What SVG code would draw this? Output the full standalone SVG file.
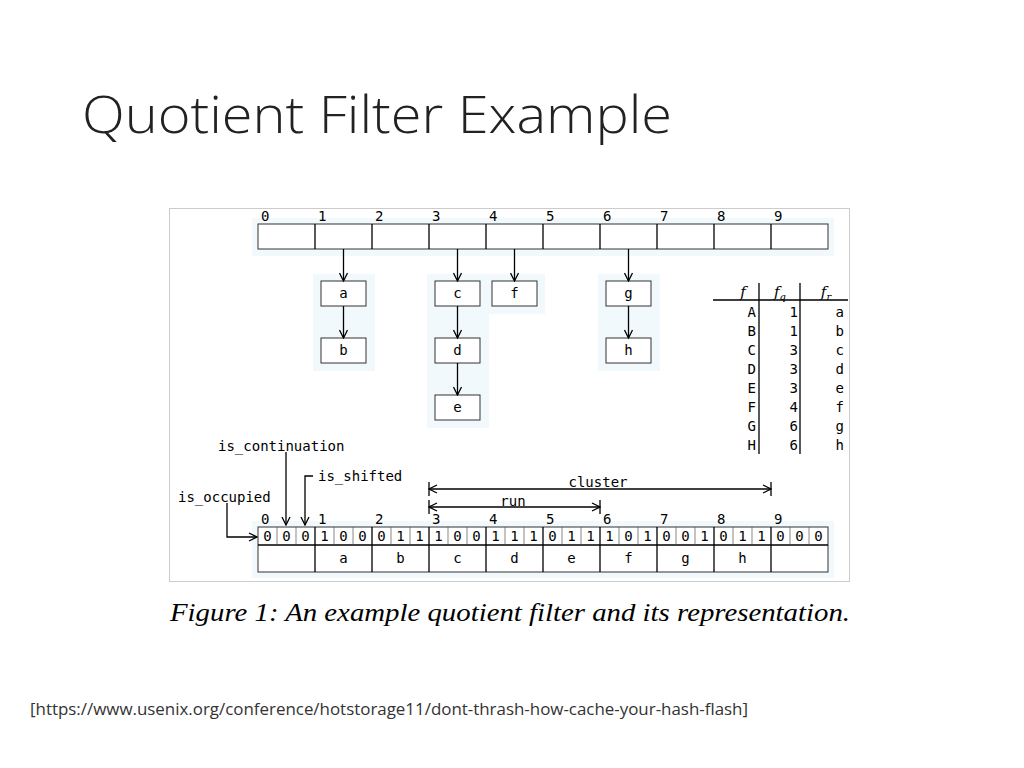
<svg xmlns="http://www.w3.org/2000/svg" width="1024" height="768" viewBox="0 0 1024 768">
<defs>
<marker id="ah" markerWidth="10" markerHeight="10" refX="9" refY="5" orient="auto" markerUnits="userSpaceOnUse"><path d="M1,1 L9,5 L1,9" fill="none" stroke="#000" stroke-width="1.3"/></marker>
<marker id="as" markerWidth="10" markerHeight="10" refX="1" refY="5" orient="auto" markerUnits="userSpaceOnUse"><path d="M9,1 L1,5 L9,9" fill="none" stroke="#000" stroke-width="1.3"/></marker>
</defs>
<style>
.m{font-family:"DejaVu Sans Mono",monospace;font-size:14px;fill:#000}
.c{text-anchor:middle}
.box{fill:#fff;stroke:#333;stroke-width:1}
.glow{fill:#f1f9fc}
.ln{stroke:#000;stroke-width:1.3;fill:none}
.it{font-family:"DejaVu Serif",serif;font-style:italic;font-size:15px}
</style>
<rect width="1024" height="768" fill="#fff"/>
<text x="82" y="133" font-family="Open Sans, sans-serif" font-size="52" font-weight="300" fill="#222" textLength="590" lengthAdjust="spacingAndGlyphs">Quotient Filter Example</text>
<rect x="169.500" y="208.500" width="680" height="373" fill="#fff" stroke="#ccc"/>
<g id="glows">
<rect class="glow" x="252" y="218" width="582" height="38"/>
<rect class="glow" x="313" y="274" width="62" height="97"/>
<rect class="glow" x="427" y="274" width="118" height="40"/>
<rect class="glow" x="427" y="314" width="62" height="114"/>
<rect class="glow" x="598" y="274" width="62" height="97"/>
<rect class="glow" x="252" y="521" width="582" height="57"/>
</g>
<g id="top-array">
<rect class="box" x="258" y="224" width="570" height="25"/>
<path class="ln" stroke-width="1" d="M315,224v25M372,224v25M429,224v25M486,224v25M543,224v25M600,224v25M657,224v25M714,224v25M771,224v25"/>
<g class="m"><text x="261" y="221">0</text><text x="318" y="221">1</text><text x="375" y="221">2</text><text x="432" y="221">3</text><text x="489" y="221">4</text><text x="546" y="221">5</text><text x="603" y="221">6</text><text x="660" y="221">7</text><text x="717" y="221">8</text><text x="774" y="221">9</text></g>
</g>
<g id="node-a"><rect class="box" x="321" y="281" width="45" height="25"/><text class="m c" x="343.500" y="298">a</text></g>
<g id="node-b"><rect class="box" x="321" y="338" width="45" height="25"/><text class="m c" x="343.500" y="355">b</text></g>
<g id="node-c"><rect class="box" x="435" y="281" width="45" height="25"/><text class="m c" x="457.500" y="298">c</text></g>
<g id="node-d"><rect class="box" x="435" y="338" width="45" height="25"/><text class="m c" x="457.500" y="355">d</text></g>
<g id="node-e"><rect class="box" x="435" y="395" width="45" height="25"/><text class="m c" x="457.500" y="412">e</text></g>
<g id="node-f"><rect class="box" x="492" y="281" width="45" height="25"/><text class="m c" x="514.500" y="298">f</text></g>
<g id="node-g"><rect class="box" x="606" y="281" width="45" height="25"/><text class="m c" x="628.500" y="298">g</text></g>
<g id="node-h"><rect class="box" x="606" y="338" width="45" height="25"/><text class="m c" x="628.500" y="355">h</text></g>
<g id="connectors" marker-end="url(#ah)">
<path class="ln" d="M343.500,249V281"/><path class="ln" d="M343.500,306V338"/>
<path class="ln" d="M457.500,249V281"/><path class="ln" d="M457.500,306V338"/><path class="ln" d="M457.500,363V395"/>
<path class="ln" d="M514.500,249V281"/>
<path class="ln" d="M628.500,249V281"/><path class="ln" d="M628.500,306V338"/>
<path class="ln" d="M286,452V525"/>
<path class="ln" d="M313,476H305V525"/>
<path class="ln" d="M227,503V537H257"/>
</g>
<g id="table">
<path class="ln" stroke-width="1.2" d="M713,300H848M759,283V454M800,283V454"/>
<g class="it c"><text x="743" y="297">f</text><text x="780" y="297">f<tspan font-size="10" dy="3">q</tspan></text><text x="826" y="297">f<tspan font-size="10" dy="3">r</tspan></text></g>
<g class="m" text-anchor="end">
<text x="756" y="317">A</text><text x="756" y="336">B</text><text x="756" y="355">C</text><text x="756" y="374">D</text><text x="756" y="393">E</text><text x="756" y="412">F</text><text x="756" y="431">G</text><text x="756" y="450">H</text>
<text x="798" y="317">1</text><text x="798" y="336">1</text><text x="798" y="355">3</text><text x="798" y="374">3</text><text x="798" y="393">3</text><text x="798" y="412">4</text><text x="798" y="431">6</text><text x="798" y="450">6</text>
<text x="844" y="317">a</text><text x="844" y="336">b</text><text x="844" y="355">c</text><text x="844" y="374">d</text><text x="844" y="393">e</text><text x="844" y="412">f</text><text x="844" y="431">g</text><text x="844" y="450">h</text>
</g>
</g>
<g id="labels" class="m">
<text x="218" y="451">is_continuation</text>
<text x="318" y="481">is_shifted</text>
<text x="178" y="502">is_occupied</text>
<text class="c" x="598" y="487">cluster</text>
<text class="c" x="513" y="506">run</text>
</g>
<g id="spans">
<path class="ln" d="M429,489H771" marker-start="url(#as)" marker-end="url(#ah)"/><path class="ln" d="M429,482v14M771,482v14"/>
<path class="ln" d="M429,507H600" marker-start="url(#as)" marker-end="url(#ah)"/><path class="ln" d="M429,500v14M600,500v14"/>
</g>
<g id="bottom-array">
<rect class="box" x="258" y="527" width="570" height="45"/>
<path class="ln" stroke-width="1" d="M258,545H828M315,527v45M372,527v45M429,527v45M486,527v45M543,527v45M600,527v45M657,527v45M714,527v45M771,527v45"/>
<path stroke="#555" stroke-width="0.7" d="M277,527v18M296,527v18M334,527v18M353,527v18M391,527v18M410,527v18M448,527v18M467,527v18M505,527v18M524,527v18M562,527v18M581,527v18M619,527v18M638,527v18M676,527v18M695,527v18M733,527v18M752,527v18M790,527v18M809,527v18"/>
<g class="m"><text x="261" y="524">0</text><text x="318" y="524">1</text><text x="375" y="524">2</text><text x="432" y="524">3</text><text x="489" y="524">4</text><text x="546" y="524">5</text><text x="603" y="524">6</text><text x="660" y="524">7</text><text x="717" y="524">8</text><text x="774" y="524">9</text></g>
<g class="m c">
<text x="267.500" y="541">0</text><text x="286.500" y="541">0</text><text x="305.500" y="541">0</text>
<text x="324.500" y="541">1</text><text x="343.500" y="541">0</text><text x="362.500" y="541">0</text>
<text x="381.500" y="541">0</text><text x="400.500" y="541">1</text><text x="419.500" y="541">1</text>
<text x="438.500" y="541">1</text><text x="457.500" y="541">0</text><text x="476.500" y="541">0</text>
<text x="495.500" y="541">1</text><text x="514.500" y="541">1</text><text x="533.500" y="541">1</text>
<text x="552.500" y="541">0</text><text x="571.500" y="541">1</text><text x="590.500" y="541">1</text>
<text x="609.500" y="541">1</text><text x="628.500" y="541">0</text><text x="647.500" y="541">1</text>
<text x="666.500" y="541">0</text><text x="685.500" y="541">0</text><text x="704.500" y="541">1</text>
<text x="723.500" y="541">0</text><text x="742.500" y="541">1</text><text x="761.500" y="541">1</text>
<text x="780.500" y="541">0</text><text x="799.500" y="541">0</text><text x="818.500" y="541">0</text>
<text x="343.500" y="563">a</text><text x="400.500" y="563">b</text><text x="457.500" y="563">c</text><text x="514.500" y="563">d</text><text x="571.500" y="563">e</text><text x="628.500" y="563">f</text><text x="685.500" y="563">g</text><text x="742.500" y="563">h</text>
</g>
</g>
<text x="170" y="621" font-family="Liberation Serif, serif" font-style="italic" font-size="25" textLength="680" lengthAdjust="spacingAndGlyphs" fill="#000">Figure 1:  An example quotient filter and its representation.</text>
<text x="30" y="715" font-family="Open Sans, sans-serif" font-size="16" fill="#333" textLength="718" lengthAdjust="spacingAndGlyphs">[https://www.usenix.org/conference/hotstorage11/dont-thrash-how-cache-your-hash-flash]</text>
</svg>
